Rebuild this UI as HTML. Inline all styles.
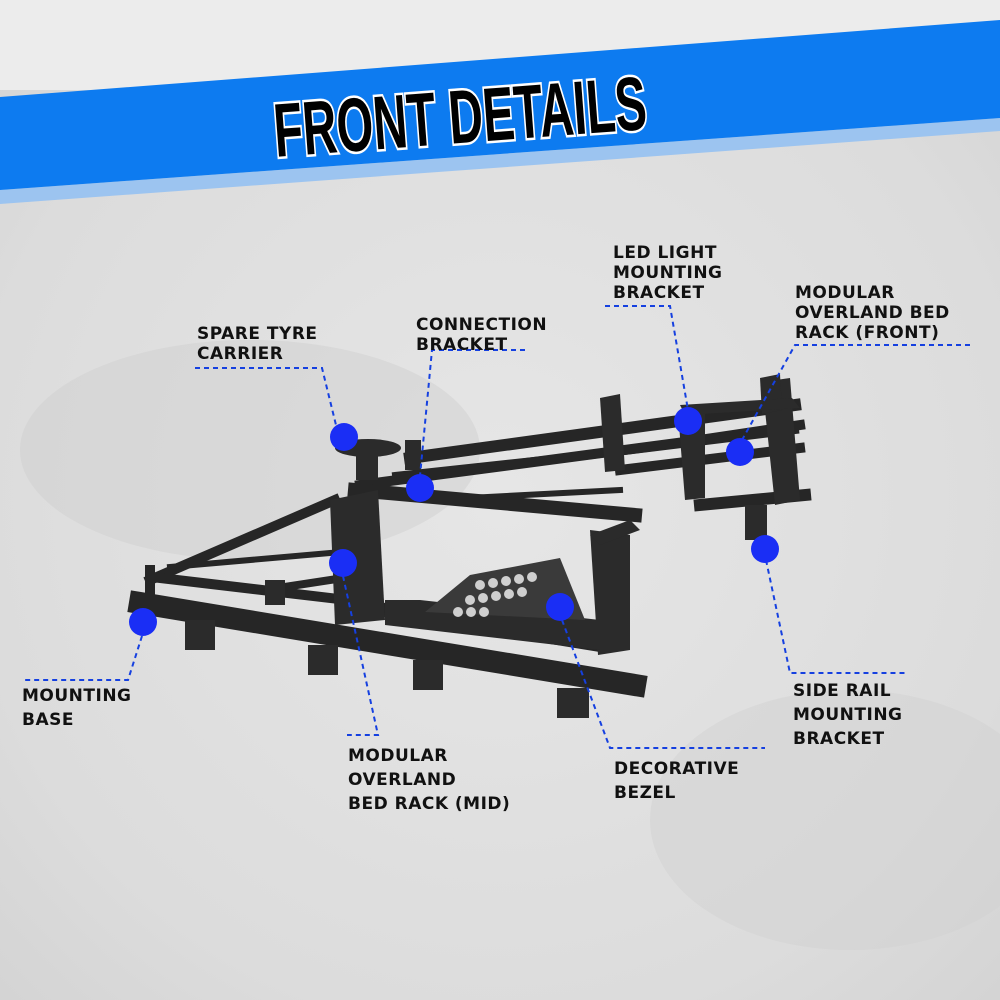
<!DOCTYPE html>
<html><head><meta charset="utf-8"><style>
body{margin:0;width:1000px;height:1000px;overflow:hidden;background:#dedede;}
svg{display:block}
.l{font-family:"DejaVu Sans","Liberation Sans",sans-serif;font-weight:bold;font-size:17px;fill:#111;letter-spacing:0.5px}
</style></head><body>
<svg width="1000" height="1000" viewBox="0 0 1000 1000">
<defs>
<radialGradient id="bg" cx="50%" cy="50%" r="75%">
<stop offset="0" stop-color="#e6e6e6"/><stop offset="0.7" stop-color="#dcdcdc"/><stop offset="1" stop-color="#d2d2d2"/></radialGradient>
</defs>
<rect width="1000" height="1000" fill="url(#bg)"/>
<rect width="1000" height="90" fill="#ececec"/>
<ellipse cx="250" cy="450" rx="230" ry="110" fill="#d0d0d0" opacity=".5"/>
<ellipse cx="850" cy="820" rx="200" ry="130" fill="#d2d2d2" opacity=".5"/>
<!-- banner -->
<polygon points="0,190 1000,118 1000,131 0,204" fill="#9cc4f0"/>
<polygon points="0,97 1000,20 1000,118 0,190" fill="#0d7bf0"/>
<g transform="rotate(-4.3 460 115)">
<text x="460" y="143" text-anchor="middle" transform="translate(460 0) scale(0.62 1) translate(-460 0)" style="font-family:'Liberation Sans',sans-serif;font-weight:bold;font-size:76px" fill="#000" stroke="#fff" stroke-width="5" paint-order="stroke">FRONT DETAILS</text>
</g>
<!-- rack -->
<g fill="none" stroke="#262626" stroke-linecap="square">
<!-- back upper long rails -->
<path d="M410,458 L795,405" stroke-width="12"/>
<path d="M470,470 L795,430" stroke-width="8"/>
<path d="M360,485 L700,440" stroke-width="10"/>
<path d="M700,440 L800,425" stroke-width="10"/>
<!-- mid hoop top crossbar -->
<path d="M355,490 L635,515" stroke-width="14"/>
<!-- lower left frame -->
<path d="M150,580 L335,500" stroke-width="10"/>
<path d="M160,578 L330,598" stroke-width="10"/>
<path d="M150,570 L150,600" stroke-width="10"/>
<path d="M170,567 L330,553" stroke-width="6"/>
<path d="M265,590 L330,580" stroke-width="8"/>
<!-- front bottom rail -->
<path d="M140,603 L635,685" stroke-width="22"/>
<path d="M385,610 L600,645" stroke-width="14"/>
<!-- right lower rails -->
<path d="M620,470 L800,448" stroke-width="10"/>
<path d="M700,505 L805,495" stroke-width="12"/>
<path d="M395,475 L580,455" stroke-width="6"/>
<path d="M430,500 L620,490" stroke-width="6"/>
</g>
<g fill="#2b2b2b">
<!-- mid hoop posts -->
<polygon points="330,500 378,490 385,620 335,625"/>
<polygon points="590,530 630,535 630,650 598,655"/>
<polygon points="385,600 420,600 600,620 600,650 385,625"/>
<polygon points="590,535 630,520 640,530 600,545"/>
<!-- front hoop posts -->
<polygon points="678,412 705,408 705,498 685,500"/>
<polygon points="762,382 790,378 800,500 775,505"/>
<polygon points="760,378 780,374 782,410 762,414"/>
<polygon points="600,398 620,394 625,470 605,472"/>
<polygon points="680,405 792,398 800,408 685,415"/>
<!-- feet -->
<rect x="185" y="620" width="30" height="30"/>
<rect x="308" y="645" width="30" height="30"/>
<rect x="413" y="660" width="30" height="30"/>
<rect x="557" y="688" width="32" height="30"/>
<rect x="745" y="505" width="22" height="35"/>
<rect x="265" y="580" width="20" height="25"/>
<rect x="405" y="440" width="16" height="30"/>
<!-- tyre carrier -->
<ellipse cx="368" cy="448" rx="33" ry="9"/>
<rect x="356" y="452" width="22" height="28"/>
</g>
<!-- bezel mesh -->
<polygon points="425,612 470,575 560,558 585,620" fill="#3a3a3a"/>
<g fill="#cfcfcf">
<circle cx="470" cy="600" r="5"/><circle cx="483" cy="598" r="5"/><circle cx="496" cy="596" r="5"/><circle cx="509" cy="594" r="5"/><circle cx="522" cy="592" r="5"/>
<circle cx="480" cy="585" r="5"/><circle cx="493" cy="583" r="5"/><circle cx="506" cy="581" r="5"/><circle cx="519" cy="579" r="5"/><circle cx="532" cy="577" r="5"/>
<circle cx="458" cy="612" r="5"/><circle cx="471" cy="612" r="5"/><circle cx="484" cy="612" r="5"/>
</g>
<!-- dashed lines -->
<g stroke="#1540e0" stroke-width="2" stroke-dasharray="5,4" fill="none">
<polyline points="195,368 322,368 336,425"/>
<polyline points="525,350 432,350 420,476"/>
<polyline points="605,306 670,306 688,410"/>
<polyline points="970,345 795,345 742,440"/>
<polyline points="766,560 790,673 905,673"/>
<polyline points="142,636 128,680 22,680"/>
<polyline points="343,576 378,735 347,735"/>
<polyline points="562,620 610,748 765,748"/>
</g>
<!-- dots -->
<g fill="#1a2ef5">
<circle cx="344" cy="437" r="14"/><circle cx="420" cy="488" r="14"/>
<circle cx="688" cy="421" r="14"/><circle cx="740" cy="452" r="14"/>
<circle cx="765" cy="549" r="14"/><circle cx="343" cy="563" r="14"/>
<circle cx="143" cy="622" r="14"/><circle cx="560" cy="607" r="14"/>
</g>
<!-- labels -->
<text class="l" x="197" y="339">SPARE TYRE</text><text class="l" x="197" y="359">CARRIER</text>
<text class="l" x="416" y="330">CONNECTION</text><text class="l" x="416" y="350">BRACKET</text>
<text class="l" x="613" y="258">LED LIGHT</text><text class="l" x="613" y="278">MOUNTING</text><text class="l" x="613" y="298">BRACKET</text>
<text class="l" x="795" y="298">MODULAR</text><text class="l" x="795" y="318">OVERLAND BED</text><text class="l" x="795" y="338">RACK (FRONT)</text>
<text class="l" x="793" y="696">SIDE RAIL</text><text class="l" x="793" y="720">MOUNTING</text><text class="l" x="793" y="744">BRACKET</text>
<text class="l" x="22" y="701">MOUNTING</text><text class="l" x="22" y="725">BASE</text>
<text class="l" x="348" y="761">MODULAR</text><text class="l" x="348" y="785">OVERLAND</text><text class="l" x="348" y="809">BED RACK (MID)</text>
<text class="l" x="614" y="774">DECORATIVE</text><text class="l" x="614" y="798">BEZEL</text>
</svg>
</body></html>
